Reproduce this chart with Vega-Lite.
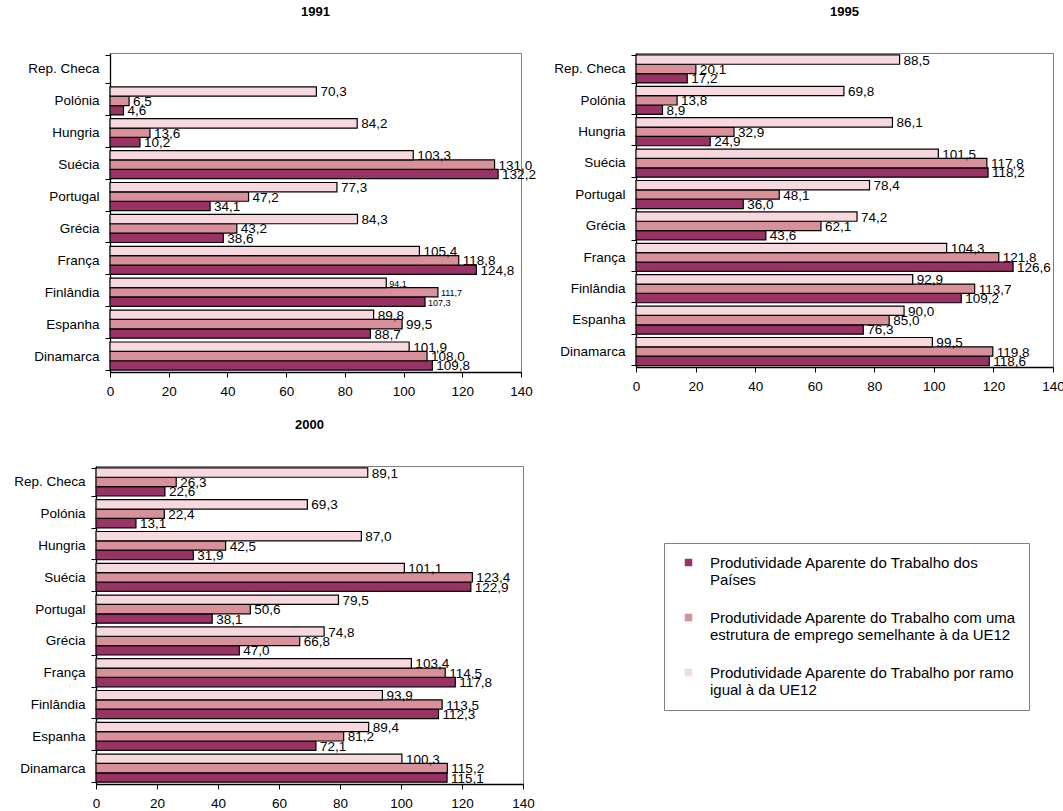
{
  "$schema": "https://vega.github.io/schema/vega-lite/v6.json",
  "padding": {"left": 5, "top": 5, "right": 0, "bottom": 5},
  "background": "white",
  "config": {
    "font": "Liberation Sans",
    "view": {"stroke": "#808080", "strokeWidth": 1},
    "axis": {"domainColor": "black", "domainWidth": 1.3, "tickColor": "black", "tickWidth": 1, "tickSize": 5, "labelColor": "black", "labelFont": "Liberation Sans", "labelFontSize": 13.5, "grid": false, "title": null, "labelFlush": false},
    "axisY": {"tickBand": "extent", "labelPadding": 6},
    "axisX": {"labelPadding": 7},
    "title": {"fontSize": 13, "fontWeight": "bold", "font": "Liberation Sans", "color": "black", "anchor": "middle", "frame": "group", "offset": 27},
    "locale": {"number": {"decimal": ",", "thousands": ".", "grouping": [3], "currency": ["", " €"]}}
  },
  "data": {"values": [
    {"ano": 1991, "pais": "Polónia", "serie": "paises", "valor": 4.6},
    {"ano": 1991, "pais": "Polónia", "serie": "estrutura", "valor": 6.5},
    {"ano": 1991, "pais": "Polónia", "serie": "ramo", "valor": 70.3},
    {"ano": 1991, "pais": "Hungria", "serie": "paises", "valor": 10.2},
    {"ano": 1991, "pais": "Hungria", "serie": "estrutura", "valor": 13.6},
    {"ano": 1991, "pais": "Hungria", "serie": "ramo", "valor": 84.2},
    {"ano": 1991, "pais": "Suécia", "serie": "paises", "valor": 132.2},
    {"ano": 1991, "pais": "Suécia", "serie": "estrutura", "valor": 131.0},
    {"ano": 1991, "pais": "Suécia", "serie": "ramo", "valor": 103.3},
    {"ano": 1991, "pais": "Portugal", "serie": "paises", "valor": 34.1},
    {"ano": 1991, "pais": "Portugal", "serie": "estrutura", "valor": 47.2},
    {"ano": 1991, "pais": "Portugal", "serie": "ramo", "valor": 77.3},
    {"ano": 1991, "pais": "Grécia", "serie": "paises", "valor": 38.6},
    {"ano": 1991, "pais": "Grécia", "serie": "estrutura", "valor": 43.2},
    {"ano": 1991, "pais": "Grécia", "serie": "ramo", "valor": 84.3},
    {"ano": 1991, "pais": "França", "serie": "paises", "valor": 124.8},
    {"ano": 1991, "pais": "França", "serie": "estrutura", "valor": 118.8},
    {"ano": 1991, "pais": "França", "serie": "ramo", "valor": 105.4},
    {"ano": 1991, "pais": "Finlândia", "serie": "paises", "valor": 107.3},
    {"ano": 1991, "pais": "Finlândia", "serie": "estrutura", "valor": 111.7},
    {"ano": 1991, "pais": "Finlândia", "serie": "ramo", "valor": 94.1},
    {"ano": 1991, "pais": "Espanha", "serie": "paises", "valor": 88.7},
    {"ano": 1991, "pais": "Espanha", "serie": "estrutura", "valor": 99.5},
    {"ano": 1991, "pais": "Espanha", "serie": "ramo", "valor": 89.8},
    {"ano": 1991, "pais": "Dinamarca", "serie": "paises", "valor": 109.8},
    {"ano": 1991, "pais": "Dinamarca", "serie": "estrutura", "valor": 108.0},
    {"ano": 1991, "pais": "Dinamarca", "serie": "ramo", "valor": 101.9},
    {"ano": 1995, "pais": "Rep. Checa", "serie": "paises", "valor": 17.2},
    {"ano": 1995, "pais": "Rep. Checa", "serie": "estrutura", "valor": 20.1},
    {"ano": 1995, "pais": "Rep. Checa", "serie": "ramo", "valor": 88.5},
    {"ano": 1995, "pais": "Polónia", "serie": "paises", "valor": 8.9},
    {"ano": 1995, "pais": "Polónia", "serie": "estrutura", "valor": 13.8},
    {"ano": 1995, "pais": "Polónia", "serie": "ramo", "valor": 69.8},
    {"ano": 1995, "pais": "Hungria", "serie": "paises", "valor": 24.9},
    {"ano": 1995, "pais": "Hungria", "serie": "estrutura", "valor": 32.9},
    {"ano": 1995, "pais": "Hungria", "serie": "ramo", "valor": 86.1},
    {"ano": 1995, "pais": "Suécia", "serie": "paises", "valor": 118.2},
    {"ano": 1995, "pais": "Suécia", "serie": "estrutura", "valor": 117.8},
    {"ano": 1995, "pais": "Suécia", "serie": "ramo", "valor": 101.5},
    {"ano": 1995, "pais": "Portugal", "serie": "paises", "valor": 36.0},
    {"ano": 1995, "pais": "Portugal", "serie": "estrutura", "valor": 48.1},
    {"ano": 1995, "pais": "Portugal", "serie": "ramo", "valor": 78.4},
    {"ano": 1995, "pais": "Grécia", "serie": "paises", "valor": 43.6},
    {"ano": 1995, "pais": "Grécia", "serie": "estrutura", "valor": 62.1},
    {"ano": 1995, "pais": "Grécia", "serie": "ramo", "valor": 74.2},
    {"ano": 1995, "pais": "França", "serie": "paises", "valor": 126.6},
    {"ano": 1995, "pais": "França", "serie": "estrutura", "valor": 121.8},
    {"ano": 1995, "pais": "França", "serie": "ramo", "valor": 104.3},
    {"ano": 1995, "pais": "Finlândia", "serie": "paises", "valor": 109.2},
    {"ano": 1995, "pais": "Finlândia", "serie": "estrutura", "valor": 113.7},
    {"ano": 1995, "pais": "Finlândia", "serie": "ramo", "valor": 92.9},
    {"ano": 1995, "pais": "Espanha", "serie": "paises", "valor": 76.3},
    {"ano": 1995, "pais": "Espanha", "serie": "estrutura", "valor": 85.0},
    {"ano": 1995, "pais": "Espanha", "serie": "ramo", "valor": 90.0},
    {"ano": 1995, "pais": "Dinamarca", "serie": "paises", "valor": 118.6},
    {"ano": 1995, "pais": "Dinamarca", "serie": "estrutura", "valor": 119.8},
    {"ano": 1995, "pais": "Dinamarca", "serie": "ramo", "valor": 99.5},
    {"ano": 2000, "pais": "Rep. Checa", "serie": "paises", "valor": 22.6},
    {"ano": 2000, "pais": "Rep. Checa", "serie": "estrutura", "valor": 26.3},
    {"ano": 2000, "pais": "Rep. Checa", "serie": "ramo", "valor": 89.1},
    {"ano": 2000, "pais": "Polónia", "serie": "paises", "valor": 13.1},
    {"ano": 2000, "pais": "Polónia", "serie": "estrutura", "valor": 22.4},
    {"ano": 2000, "pais": "Polónia", "serie": "ramo", "valor": 69.3},
    {"ano": 2000, "pais": "Hungria", "serie": "paises", "valor": 31.9},
    {"ano": 2000, "pais": "Hungria", "serie": "estrutura", "valor": 42.5},
    {"ano": 2000, "pais": "Hungria", "serie": "ramo", "valor": 87.0},
    {"ano": 2000, "pais": "Suécia", "serie": "paises", "valor": 122.9},
    {"ano": 2000, "pais": "Suécia", "serie": "estrutura", "valor": 123.4},
    {"ano": 2000, "pais": "Suécia", "serie": "ramo", "valor": 101.1},
    {"ano": 2000, "pais": "Portugal", "serie": "paises", "valor": 38.1},
    {"ano": 2000, "pais": "Portugal", "serie": "estrutura", "valor": 50.6},
    {"ano": 2000, "pais": "Portugal", "serie": "ramo", "valor": 79.5},
    {"ano": 2000, "pais": "Grécia", "serie": "paises", "valor": 47.0},
    {"ano": 2000, "pais": "Grécia", "serie": "estrutura", "valor": 66.8},
    {"ano": 2000, "pais": "Grécia", "serie": "ramo", "valor": 74.8},
    {"ano": 2000, "pais": "França", "serie": "paises", "valor": 117.8},
    {"ano": 2000, "pais": "França", "serie": "estrutura", "valor": 114.5},
    {"ano": 2000, "pais": "França", "serie": "ramo", "valor": 103.4},
    {"ano": 2000, "pais": "Finlândia", "serie": "paises", "valor": 112.3},
    {"ano": 2000, "pais": "Finlândia", "serie": "estrutura", "valor": 113.5},
    {"ano": 2000, "pais": "Finlândia", "serie": "ramo", "valor": 93.9},
    {"ano": 2000, "pais": "Espanha", "serie": "paises", "valor": 72.1},
    {"ano": 2000, "pais": "Espanha", "serie": "estrutura", "valor": 81.2},
    {"ano": 2000, "pais": "Espanha", "serie": "ramo", "valor": 89.4},
    {"ano": 2000, "pais": "Dinamarca", "serie": "paises", "valor": 115.1},
    {"ano": 2000, "pais": "Dinamarca", "serie": "estrutura", "valor": 115.2},
    {"ano": 2000, "pais": "Dinamarca", "serie": "ramo", "valor": 100.3}
  ]},
  "spacing": 20,
  "vconcat": [
    {
      "spacing": 13,
      "bounds": "flush",
      "hconcat": [
        {
          "width": 1, "height": 1,
          "view": {"stroke": null},
          "transform": [{"filter": "datum.ano == 1991 && datum.pais == 'Polónia' && datum.serie == 'ramo'"}],
          "mark": {"type": "point", "opacity": 0},
          "encoding": {}
        },
        {
          "title": "1991",
          "width": 411, "height": 319,
          "transform": [{"filter": "datum.ano == 1991"}],
          "encoding": {
            "y": {"field": "pais", "type": "nominal", "scale": {"domain": ["Rep. Checa", "Polónia", "Hungria", "Suécia", "Portugal", "Grécia", "França", "Finlândia", "Espanha", "Dinamarca"], "paddingInner": 0.12, "paddingOuter": 0.06}},
            "yOffset": {"field": "serie", "type": "nominal", "scale": {"domain": ["ramo", "estrutura", "paises"], "paddingInner": 0, "paddingOuter": 0}},
            "x": {"field": "valor", "type": "quantitative", "scale": {"domain": [0, 140], "nice": false}, "axis": {"values": [0, 20, 40, 60, 80, 100, 120, 140]}}
          },
          "layer": [
            {"mark": {"type": "bar", "stroke": "black", "strokeWidth": 1.2},
             "encoding": {"color": {"field": "serie", "type": "nominal", "scale": {"domain": ["paises", "estrutura", "ramo"], "range": ["#993366", "#D8909A", "#F7D8DE"]},
               "legend": {"orient": "none", "legendX": 568, "legendY": 490, "title": null, "symbolType": "square", "symbolSize": 56, "symbolStrokeWidth": 0, "symbolOffset": 5, "labelFontSize": 15, "labelFont": "Liberation Sans", "labelColor": "black", "labelLimit": 500, "labelOffset": 14, "rowPadding": 22, "padding": 12, "strokeColor": "#808080", "fillColor": "white",
                 "labelExpr": "datum.value == 'paises' ? ['Produtividade Aparente do Trabalho dos', 'Países'] : datum.value == 'estrutura' ? ['Produtividade Aparente do Trabalho com uma', 'estrutura de emprego semelhante à da UE12'] : [' Produtividade Aparente do Trabalho por ramo', 'igual à da UE12']",
                 "encode": {"labels": {"update": {"baseline": {"value": "top"}, "dy": {"value": -8}, "lineHeight": {"value": 19}}}}}}}},
            {"transform": [{"filter": "datum.pais != 'Finlândia'"}],
             "mark": {"type": "text", "align": "left", "baseline": "middle", "dx": 4, "dy": 1, "color": "black", "fontSize": 13.5},
             "encoding": {"text": {"field": "valor", "type": "quantitative", "format": ".1f"}}},
            {"transform": [{"filter": "datum.pais == 'Finlândia'"}],
             "mark": {"type": "text", "align": "left", "baseline": "middle", "dx": 3, "dy": 1, "color": "black", "fontSize": 9},
             "encoding": {"text": {"field": "valor", "type": "quantitative", "format": ".1f"}}}
          ]
        },
        {
          "width": 89, "height": 1,
          "view": {"stroke": null},
          "transform": [{"filter": "datum.ano == 1991 && datum.pais == 'Polónia' && datum.serie == 'ramo'"}],
          "mark": {"type": "point", "opacity": 0},
          "encoding": {}
        },
        {
          "title": "1995",
          "width": 417, "height": 314,
          "transform": [{"filter": "datum.ano == 1995"}],
          "encoding": {
            "y": {"field": "pais", "type": "nominal", "scale": {"domain": ["Rep. Checa", "Polónia", "Hungria", "Suécia", "Portugal", "Grécia", "França", "Finlândia", "Espanha", "Dinamarca"], "paddingInner": 0.12, "paddingOuter": 0.06}},
            "yOffset": {"field": "serie", "type": "nominal", "scale": {"domain": ["ramo", "estrutura", "paises"], "paddingInner": 0, "paddingOuter": 0}},
            "x": {"field": "valor", "type": "quantitative", "scale": {"domain": [0, 140], "nice": false}, "axis": {"values": [0, 20, 40, 60, 80, 100, 120, 140]}}
          },
          "layer": [
            {"mark": {"type": "bar", "stroke": "black", "strokeWidth": 1.2},
             "encoding": {"color": {"field": "serie", "type": "nominal", "scale": {"domain": ["paises", "estrutura", "ramo"], "range": ["#993366", "#D8909A", "#F7D8DE"]}}}},
            {"mark": {"type": "text", "align": "left", "baseline": "middle", "dx": 4, "dy": 1, "color": "black", "fontSize": 13.5},
             "encoding": {"text": {"field": "valor", "type": "quantitative", "format": ".1f"}}}
          ]
        }
      ]
    },
    {
      "title": "2000",
      "width": 427, "height": 318,
      "transform": [{"filter": "datum.ano == 2000"}],
      "encoding": {
        "y": {"field": "pais", "type": "nominal", "scale": {"domain": ["Rep. Checa", "Polónia", "Hungria", "Suécia", "Portugal", "Grécia", "França", "Finlândia", "Espanha", "Dinamarca"], "paddingInner": 0.12, "paddingOuter": 0.06}, "axis": {"minExtent": 90, "maxExtent": 90}},
        "yOffset": {"field": "serie", "type": "nominal", "scale": {"domain": ["ramo", "estrutura", "paises"], "paddingInner": 0, "paddingOuter": 0}},
        "x": {"field": "valor", "type": "quantitative", "scale": {"domain": [0, 140], "nice": false}, "axis": {"values": [0, 20, 40, 60, 80, 100, 120, 140]}}
      },
      "layer": [
        {"mark": {"type": "bar", "stroke": "black", "strokeWidth": 1.2},
         "encoding": {"color": {"field": "serie", "type": "nominal", "scale": {"domain": ["paises", "estrutura", "ramo"], "range": ["#993366", "#D8909A", "#F7D8DE"]}}}},
        {"mark": {"type": "text", "align": "left", "baseline": "middle", "dx": 4, "dy": 1, "color": "black", "fontSize": 13.5},
         "encoding": {"text": {"field": "valor", "type": "quantitative", "format": ".1f"}}}
      ]
    }
  ]
}
